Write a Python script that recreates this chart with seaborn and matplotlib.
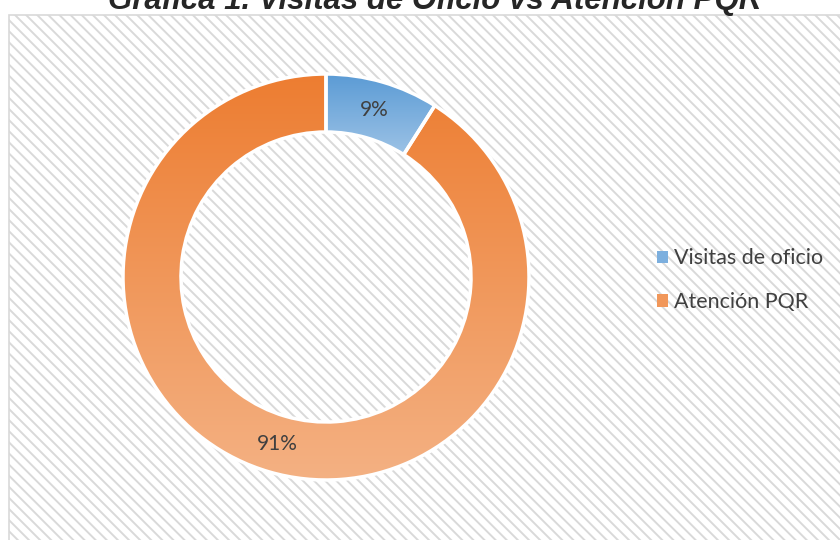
# Donut chart: visitas de oficio vs atención PQR

import seaborn as sns
import matplotlib.pyplot as plt
from matplotlib.patches import Rectangle
import numpy as np

labels = ["Visitas de oficio", "Atención PQR"]
values = [9, 91]

# top / bottom colours of the gradient fill of each slice
dark = ["#5B9BD5", "#ED7D31"]
light = ["#9DC3E6", "#F4B183"]

sns.set_theme(style="white")
plt.rcParams["font.family"] = ["Lato", "DejaVu Sans"]
plt.rcParams["hatch.color"] = "#DEDEDE"
plt.rcParams["hatch.linewidth"] = 1.4

fig = plt.figure(figsize=(8.4, 5.4), dpi=100)
ax = fig.add_axes([0, 0, 1, 1])

# hatched plot area
ax.add_patch(Rectangle((9, -20), 850, 545, facecolor="white",
                       edgecolor="#D9D9D9", hatch="\\\\\\", lw=1.2, zorder=0))

wedges, texts, autotexts = ax.pie(
    values,
    center=(326, 263),
    radius=203,
    startangle=90,
    counterclock=False,
    autopct="%1.0f%%",
    pctdistance=0.857,
    wedgeprops=dict(width=58, edgecolor="white", linewidth=2.5),
    textprops=dict(color="#404040", fontsize=15),
    frame=True,
)

# vertical gradient inside each slice
grad = np.linspace(0, 1, 256).reshape(-1, 1)
for w, c0, c1 in zip(wedges, dark, light):
    ext = w.get_path().get_extents()
    cmap = sns.blend_palette([c0, c1], as_cmap=True)
    im = ax.imshow(grad, cmap=cmap, aspect="auto",
                   extent=(ext.x0, ext.x1, ext.y0, ext.y1), zorder=1)
    im.set_clip_path(w)
    w.set_facecolor("none")
    w.set_zorder(2)
for t in autotexts:
    t.set_zorder(3)
ax.set_xlim(0, 840)
ax.set_ylim(0, 540)
ax.set_aspect("equal")
ax.axis("off")

leg = ax.legend(
    wedges, labels,
    loc="center left", bbox_to_anchor=(0.759, 0.481),
    bbox_transform=fig.transFigure,
    frameon=False, fontsize=15.5, labelcolor="#404040",
    handlelength=0.5, handleheight=0.5, handletextpad=0.3,
    labelspacing=1.1,
)
for h, c0, c1 in zip(leg.legend_handles, dark, light):
    h.set_facecolor(sns.blend_palette([c0, c1], 3)[1])
    h.set_edgecolor("none")

fig.text(0.518, 0.983, "Gráfica 1. Visitas de Oficio vs Atención PQR",
         ha="center", va="baseline", fontsize=22.5, fontweight="bold",
         fontstyle="italic", family=["Liberation Sans", "DejaVu Sans"])

plt.savefig("out.png", dpi=100)
